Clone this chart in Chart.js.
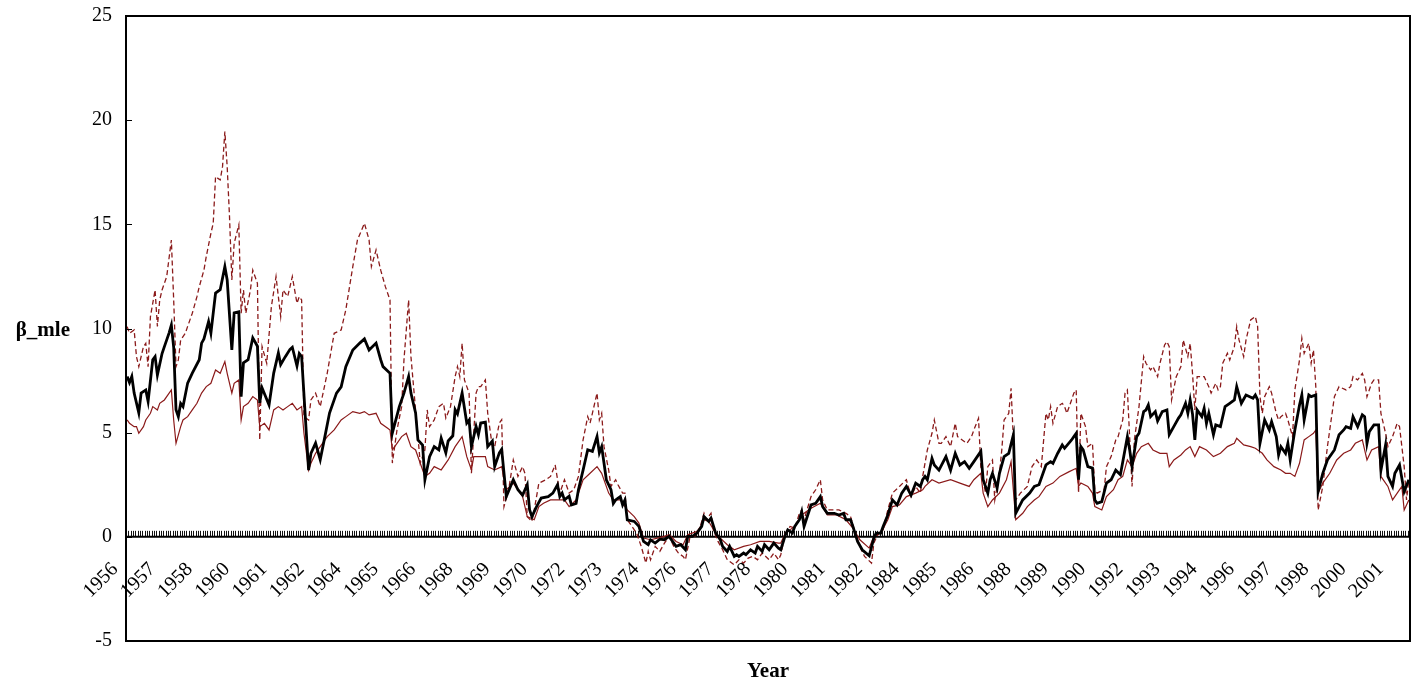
<!DOCTYPE html>
<html>
<head>
<meta charset="utf-8">
<title>β_mle by year</title>
<script src="https://cdn.jsdelivr.net/npm/chart.js@4.4.1/dist/chart.umd.min.js"></script>
<style>
  html, body { margin: 0; padding: 0; background: #ffffff; }
  #wrap { width: 1413px; height: 684px; }
</style>
</head>
<body>
<div id="wrap"><canvas id="chart" width="1413" height="684"></canvas></div>
<script>
// Monthly series starting January 1956; months are counted from that point.
const MONTH_COUNT = 552;
const LABEL_STEP = 16; // one year label every 16 months

const yearLabels = ['1956','1957','1958','1960','1961','1962','1964','1965','1966','1968','1969','1970',
  '1972','1973','1974','1976','1977','1978','1980','1981','1982','1984','1985','1986','1988','1989',
  '1990','1992','1993','1994','1996','1997','1998','2000','2001'];

const yTicks = [-5, 0, 5, 10, 15, 20, 25];

// Point estimate
const mleMonths = [0,1,2,3,5,6,8,9,11,12,13,15,16,18,19,20,21,22,23,24,26,28,31,32,33,35,36,38,40,42,43,45,46,48,49,50,52,54,56,57,58,61,63,65,66,68,70,71,73,74,75,78,79,81,83,85,87,90,92,94,97,100,102,104,107,109,110,113,114,117,119,121,122,124,125,127,128,
  130,132,134,135,137,138,140,141,142,144,146,147,148,150,151,152,154,155,157,158,160,161,163,166,168,170,172,173,174,176,178,181,183,185,186,187,188,190,191,193,194,196,198,200,202,203,204,206,208,209,210,212,213,214,215,218,220,
  222,224,225,227,229,231,233,235,236,238,240,241,243,245,247,248,250,251,253,255,256,258,259,261,262,263,265,266,268,270,271,273,274,276,277,278,280,281,283,284,286,287,289,290,291,294,296,298,299,301,304,306,308,309,311,312,314,316,319,321,322,324,325,327,329,331,333,335,337,339,341,342,
  343,344,346,347,349,352,354,356,358,360,362,364,367,368,370,371,372,374,375,377,379,381,382,385,388,390,392,395,397,398,400,402,403,406,407,408,409,410,411,413,415,416,417,419,421,423,425,427,430,431,432,434,435,437,438,439,440,442,443,445,447,448,450,452,453,455,456,457,458,459,460,462,463,464,465,467,468,470,472,474,476,477,479,481,484,485,486,487,489,491,492,494,495,496,498,499,500,502,504,505,506,508,509,511,512,514,516,519,521,523,524,526,527,529,531,532,533,534,536,538,539,541,542,544,545,547,549,551];
const mleValues = [7.69,7.4,7.7,6.9,5.95,6.9,7.05,6.5,8.5,8.65,7.77,8.8,9.13,9.78,10.17,9.1,6.1,5.77,6.4,6.25,7.38,7.86,8.5,9.3,9.5,10.33,9.78,11.7,11.86,12.97,12.33,8.97,10.75,10.8,6.73,8.35,8.5,9.55,9.15,6.43,7.15,6.33,7.86,8.83,8.27,8.65,9.0,9.1,8.2,8.8,8.66,3.2,4.0,4.5,3.7,4.81,5.94,6.9,7.2,8.17,8.97,9.3,9.5,8.97,9.3,8.5,8.17,7.85,4.98,6.25,6.9,7.69,6.9,5.95,4.65,4.4,2.74,
  3.85,4.33,4.17,4.74,4.03,4.6,4.85,6.1,5.9,6.9,5.46,5.6,4.33,5.3,4.9,5.46,5.5,4.33,4.6,3.37,4.03,4.2,1.93,2.74,2.26,2.0,2.5,1.3,0.97,1.45,1.86,1.93,2.1,2.5,1.93,2.1,1.77,1.95,1.53,1.6,2.26,3.2,4.18,4.1,4.81,4.03,4.33,2.74,2.26,1.6,1.77,1.93,1.53,1.77,0.82,0.74,0.5,
  -0.22,-0.38,-0.14,-0.3,-0.11,-0.14,0.02,-0.3,-0.46,-0.38,-0.62,0.02,0.02,0.18,0.5,0.97,0.74,0.9,0.18,-0.14,-0.46,-0.7,-0.46,-0.94,-0.86,-0.94,-0.78,-0.86,-0.62,-0.78,-0.46,-0.7,-0.38,-0.62,-0.46,-0.3,-0.54,-0.62,0.1,0.34,0.18,0.5,0.82,1.21,0.5,1.53,1.61,1.93,1.45,1.13,1.13,1.05,1.13,0.82,0.82,0.5,-0.22,-0.62,-0.91,-0.06,0.18,0.18,0.5,1.05,1.77,1.53,2.1,2.42,2.0,2.58,2.42,2.74,
  2.9,2.74,3.77,3.45,3.2,3.85,3.2,4.01,3.45,3.61,3.29,3.61,4.1,2.74,2.1,2.74,3.05,2.34,3.05,3.85,4.01,4.9,1.13,1.77,2.1,2.42,2.5,3.45,3.61,3.53,4.0,4.41,4.25,4.65,4.81,4.97,2.74,4.33,4.17,3.37,3.3,1.77,1.61,1.69,2.58,2.74,3.2,2.98,4.81,4.17,3.37,4.81,4.97,6.01,6.09,6.33,5.77,6.01,5.56,6.01,6.09,4.9,5.3,5.7,5.86,6.41,5.93,6.57,5.9,4.65,6.09,5.77,6.17,5.45,5.93,4.9,5.37,5.29,6.25,6.41,6.57,7.21,6.41,6.81,6.65,6.81,6.57,4.49,5.61,5.13,5.53,4.81,3.93,4.33,4.01,4.49,3.69,5.13,6.33,6.81,5.61,6.81,6.73,6.81,2.17,3.05,3.69,4.17,4.9,5.13,5.29,5.21,5.77,5.29,5.86,5.77,4.49,5.05,5.37,5.37,3.2,4.41,2.9,2.42,3.05,3.45,2.17,2.74];

// Outer band (dashed)
const outerMonths = [0,1,3,4,5,7,8,9,10,12,13,14,15,17,19,20,21,22,23,25,26,28,30,31,33,34,36,37,38,40,41,42,43,44,45,46,48,49,50,51,53,54,56,57,58,60,62,64,66,67,69,70,71,73,74,75,76,78,79,81,83,86,89,92,94,97,99,102,104,105,107,109,111,113,114,116,118,119,121,122,124,126,128,129,
  130,132,134,136,137,139,141,142,143,144,145,147,148,150,151,152,154,155,157,158,160,161,162,164,166,168,170,171,172,174,175,177,180,182,184,186,188,190,192,194,196,198,199,200,202,203,204,205,207,208,210,211,213,214,215,219,
  221,223,224,225,227,229,231,233,235,237,239,240,242,244,246,248,249,251,252,254,256,258,261,263,265,267,269,271,273,276,278,280,281,283,285,287,289,290,291,294,296,298,299,301,304,306,309,311,313,315,317,320,321,323,325,327,329,332,335,337,339,341,342,
  344,346,347,349,350,352,354,356,357,359,361,363,364,366,367,369,370,372,373,375,376,377,379,380,381,382,384,387,389,391,393,395,396,397,398,400,402,403,404,406,407,408,409,410,411,412,413,415,416,417,420,421,423,425,426,428,429,430,432,433,435,437,438,440,441,443,444,446,447,448,449,451,453,454,456,457,458,459,460,462,463,465,466,468,469,470,471,473,474,476,477,478,480,481,482,483,485,486,487,488,489,491,492,494,495,496,498,499,501,502,504,505,506,508,509,510,511,512,514,516,518,519,521,524,526,527,529,531,532,533,535,536,538,539,541,542,544,546,547,549,550,551];
const outerValues = [10.09,9.77,9.93,8.65,8.17,9.13,9.29,8.17,10.57,11.85,10.1,11.37,11.85,12.49,14.25,11.37,8.17,8.49,9.45,9.77,10.1,10.73,11.53,12.01,12.8,13.45,14.57,15.05,17.29,17.13,17.77,19.45,17.77,15.37,12.33,14.09,14.97,10.73,11.85,10.73,11.85,12.8,12.17,4.65,9.13,8.33,11.05,12.49,10.57,11.85,11.53,12.01,12.49,11.21,11.53,11.37,5.77,5.61,6.57,6.9,6.25,7.85,9.77,9.93,10.9,12.97,14.25,15.05,14.25,12.97,13.77,12.8,12.01,11.37,3.54,5.13,6.25,8.49,11.37,8.65,6.09,3.54,4.17,6.09,
  5.29,5.61,6.25,6.41,5.7,6.25,7.69,8.17,7.69,9.29,7.53,6.9,3.05,6.9,7.21,7.21,7.53,5.93,4.33,4.33,5.46,5.62,1.45,2.26,3.69,2.9,3.37,3.05,0.97,0.74,1.29,2.58,2.74,2.9,3.45,2.1,2.74,2.1,2.26,2.9,4.65,5.77,5.46,5.93,6.9,5.61,5.93,4.33,3.21,2.42,2.74,2.5,2.1,2.1,0.82,0.18,
  -0.46,-1.26,-0.7,-1.1,-0.46,-0.7,-0.3,0.02,-0.46,-0.78,-0.94,-1.1,0.02,0.02,0.34,1.13,0.82,1.13,0.34,-0.22,-0.62,-1.1,-1.34,-1.1,-1.26,-1.02,-0.94,-1.1,-0.78,-1.1,-0.78,-1.1,-0.86,0.18,0.5,0.42,1.13,1.29,0.82,1.93,2.26,2.74,1.77,1.29,1.29,1.29,1.13,0.97,0.18,-0.46,-0.94,-1.26,-0.3,0.18,0.34,1.29,2.1,2.42,2.74,1.93,2.42,2.1,2.9,
  4.17,4.97,5.61,4.49,4.49,4.81,4.33,5.45,4.81,4.65,4.49,4.81,5.13,5.69,3.37,2.1,3.37,3.69,1.77,3.05,4.17,5.61,5.93,7.13,4.65,1.77,2.1,2.42,3.37,3.69,3.37,5.93,5.61,6.25,5.45,6.25,6.41,6.25,5.93,6.57,6.9,7.05,2.1,5.93,5.61,5.29,4.33,4.49,2.26,2.1,2.26,3.37,3.85,4.65,4.81,5.61,6.9,7.05,2.42,4.65,6.25,8.65,8.33,8.01,8.17,7.69,8.33,9.21,9.37,9.13,6.57,7.69,8.17,9.45,8.65,9.29,7.85,6.09,7.69,7.69,7.69,7.21,6.9,7.37,7.05,7.21,8.33,8.81,8.49,9.13,10.09,9.45,8.65,9.45,9.93,10.41,10.57,10.09,6.73,5.93,6.73,7.21,6.9,5.93,5.61,5.77,5.93,5.61,4.81,7.05,8.49,9.53,8.81,9.29,8.33,8.97,7.21,1.29,2.42,4.33,5.93,6.73,7.21,7.05,7.21,7.69,7.53,7.85,7.53,6.73,7.37,7.53,7.53,5.93,4.97,4.33,4.81,5.45,5.29,3.37,1.77,2.74];

// Inner band (thin solid)
const innerMonths = [0,1,3,4,5,7,8,10,11,13,14,16,19,20,21,23,24,26,28,30,32,34,36,38,40,42,43,45,46,48,49,50,52,54,56,57,59,61,63,65,67,69,71,73,75,76,78,79,81,83,86,89,92,94,97,100,102,104,107,109,112,113,114,116,118,120,122,124,126,128,
  130,132,135,138,141,144,146,148,149,152,154,155,158,161,163,166,168,170,172,175,177,179,182,185,188,190,193,196,199,202,204,207,209,212,215,218,220,
  222,225,228,231,233,236,239,241,245,247,248,250,253,255,258,261,265,268,272,276,280,281,283,287,290,294,298,301,305,309,312,315,319,321,324,327,329,332,335,339,342,
  343,346,349,354,358,362,364,367,368,370,372,375,378,380,382,385,387,390,392,395,398,401,405,408,409,410,413,415,416,419,421,424,426,428,430,432,434,436,439,441,444,447,448,450,453,455,457,459,461,464,467,470,473,476,477,480,483,485,488,490,493,496,498,500,502,504,506,508,510,511,512,514,517,520,523,526,528,531,533,535,538,539,542,544,546,548,549,551];
const innerValues = [5.61,5.45,5.29,5.29,4.97,5.29,5.61,5.93,6.25,6.09,6.41,6.57,7.05,5.61,4.49,5.29,5.61,5.77,6.09,6.41,6.9,7.21,7.37,8.01,7.85,8.41,7.85,6.9,7.37,7.53,5.61,6.25,6.41,6.73,6.57,5.29,5.45,5.13,6.09,6.25,6.09,6.25,6.41,6.09,6.25,4.97,3.2,3.53,4.01,4.33,4.81,5.13,5.61,5.77,6.01,5.93,6.01,5.85,5.93,5.45,5.21,5.13,4.17,4.49,4.81,4.97,4.33,4.17,3.53,2.9,
  3.05,3.37,3.21,3.69,4.33,4.81,3.85,3.21,3.85,3.85,3.85,3.37,3.21,3.37,2.26,2.58,2.26,1.93,0.97,0.82,1.45,1.61,1.77,1.77,1.77,1.45,1.77,2.74,3.05,3.37,3.05,2.1,1.77,1.77,1.29,0.97,0.66,
  -0.06,-0.14,-0.06,0.02,0.1,-0.22,-0.38,0.1,0.26,0.58,0.82,0.74,0.18,-0.06,-0.38,-0.62,-0.46,-0.38,-0.22,-0.22,-0.3,-0.3,0.18,0.5,1.05,1.37,1.61,1.05,1.05,0.82,0.42,-0.14,-0.54,0.02,0.18,0.82,1.45,1.53,1.93,2.1,2.26,
  2.42,2.74,2.58,2.74,2.58,2.42,2.74,3.05,2.1,1.45,1.77,2.1,2.74,3.61,0.82,1.13,1.45,1.77,1.93,2.42,2.58,2.9,3.13,3.29,2.42,2.58,2.42,2.1,1.45,1.29,1.93,2.26,2.74,2.9,3.69,3.37,4.01,4.33,4.49,4.17,4.01,4.01,3.37,3.69,3.93,4.17,4.33,3.85,4.33,4.17,3.85,4.01,4.33,4.49,4.73,4.41,4.33,4.25,4.01,3.69,3.37,3.21,3.05,3.05,2.9,3.53,4.65,4.81,4.97,5.13,2.1,2.58,3.05,3.69,4.01,4.17,4.49,4.65,3.69,4.17,4.33,2.9,2.42,1.77,2.1,2.42,1.29,1.77];

const BAND_COLOR = '#8b1a1a';
const SERIF = '"Liberation Serif", "Times New Roman", Times, serif';

function toPoints(months, values) {
  return months.map((m, i) => ({ x: m, y: values[i] }));
}

// Frame, zero axis with a tick for every month, inward y ticks and the two axis titles.
const axisDecor = {
  id: 'axisDecor',
  beforeDatasetsDraw(chart) {
    const { ctx, chartArea: a, scales: { x, y } } = chart;
    const y0 = y.getPixelForValue(0);
    ctx.save();
    ctx.strokeStyle = '#111';
    ctx.lineWidth = 1;
    ctx.beginPath();
    for (let k = 0; k <= MONTH_COUNT; k++) {
      const px = Math.round(x.getPixelForValue(k - 0.5)) + 0.5;
      ctx.moveTo(px, y0 - 6);
      ctx.lineTo(px, y0);
    }
    ctx.stroke();
    ctx.strokeStyle = '#000';
    ctx.lineWidth = 2;
    ctx.beginPath();
    ctx.moveTo(a.left, y0);
    ctx.lineTo(a.right, y0);
    ctx.stroke();
    ctx.restore();
  },
  afterDraw(chart) {
    const { ctx, chartArea: a, scales: { y } } = chart;
    ctx.save();
    ctx.strokeStyle = '#000';
    ctx.lineWidth = 2;
    ctx.strokeRect(a.left, a.top, a.right - a.left, a.bottom - a.top);
    ctx.beginPath();
    yTicks.forEach(v => {
      const py = Math.round(y.getPixelForValue(v)) + 0.5;
      ctx.moveTo(a.left, py);
      ctx.lineTo(a.left + 6, py);
    });
    ctx.lineWidth = 1;
    ctx.stroke();
    ctx.fillStyle = '#000';
    ctx.font = 'bold 21px ' + SERIF;
    ctx.textAlign = 'right';
    ctx.textBaseline = 'alphabetic';
    ctx.fillText('β_mle', 70, 336);
    ctx.textAlign = 'center';
    ctx.fillText('Year', (a.left + a.right) / 2, 677);
    ctx.restore();
  }
};

// Keep the plot box where the layout padding puts it: no extra room for edge labels.
function noEdgePadding(scale) {
  scale.paddingTop = 0;
  scale.paddingBottom = 0;
  scale.paddingLeft = 0;
  scale.paddingRight = 0;
}

new Chart(document.getElementById('chart'), {
  type: 'line',
  data: {
    datasets: [
      {
        label: 'β_mle',
        data: toPoints(mleMonths, mleValues),
        borderColor: '#000000',
        borderWidth: 2.8,
        pointRadius: 0,
        tension: 0
      },
      {
        label: 'lower',
        data: toPoints(innerMonths, innerValues),
        borderColor: BAND_COLOR,
        borderWidth: 1.2,
        pointRadius: 0,
        tension: 0
      },
      {
        label: 'upper',
        data: toPoints(outerMonths, outerValues),
        borderColor: BAND_COLOR,
        borderWidth: 1.3,
        borderDash: [5, 3],
        pointRadius: 0,
        tension: 0
      }
    ]
  },
  options: {
    responsive: false,
    animation: false,
    devicePixelRatio: 1,
    layout: { padding: { top: 16, right: 3, bottom: 43, left: 0 } },
    plugins: { legend: { display: false }, tooltip: { enabled: false }, title: { display: false } },
    scales: {
      x: {
        type: 'linear',
        min: -0.5,
        max: MONTH_COUNT - 0.5,
        position: { y: 0 },
        border: { display: false },
        grid: { display: false, drawTicks: false },
        afterBuildTicks: (scale) => {
          scale.ticks = yearLabels.map((_, i) => ({ value: i * LABEL_STEP }));
        },
        afterFit: noEdgePadding,
        ticks: {
          autoSkip: false,
          minRotation: 45,
          maxRotation: 45,
          padding: 21,
          labelOffset: -12,
          color: '#000',
          font: { family: SERIF, size: 20 },
          callback: (value, index) => yearLabels[index]
        }
      },
      y: {
        min: -5,
        max: 25,
        border: { display: false },
        grid: { display: false, drawTicks: false },
        afterBuildTicks: (scale) => {
          scale.ticks = yTicks.map(v => ({ value: v }));
        },
        afterFit: (scale) => { scale.width = 126; noEdgePadding(scale); },
        ticks: {
          padding: 14,
          color: '#000',
          font: { family: SERIF, size: 20 }
        }
      }
    }
  },
  plugins: [axisDecor]
});
</script>
</body>
</html>
